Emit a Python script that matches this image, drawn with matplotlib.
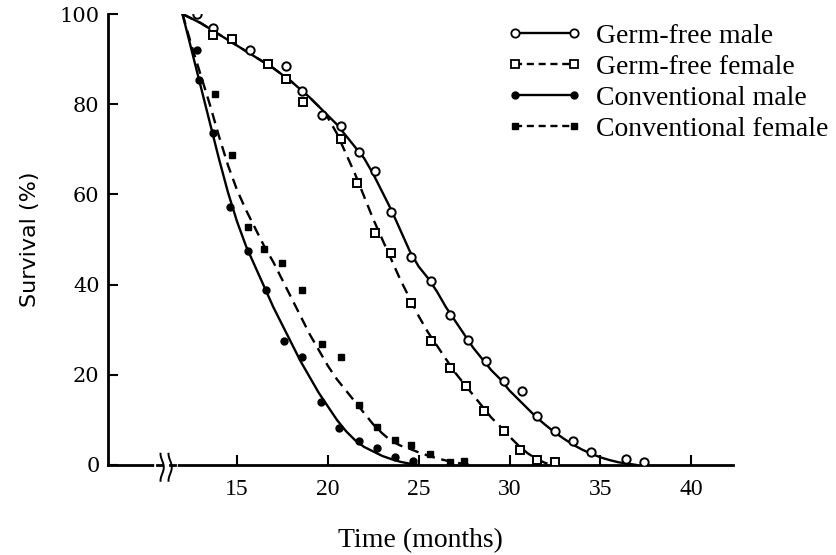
import numpy as np
import matplotlib
matplotlib.use("Agg")
import matplotlib.pyplot as plt
from matplotlib.lines import Line2D

# ---------------- data ----------------
# observed points
gfm_x = [12.8, 13.7, 15.7, 17.7, 18.6, 19.7, 20.7, 21.7, 22.6, 23.5, 24.6, 25.7, 26.7,
         27.7, 28.7, 29.7, 30.7, 31.5, 32.5, 33.5, 34.5, 36.4, 37.4]
gfm_y = [100, 97, 92, 88.5, 83, 77.5, 75.2, 69.5, 65.2, 56.1, 46.2, 40.7, 33.3,
         27.7, 23, 18.7, 16.3, 10.8, 7.6, 5.3, 2.8, 1.3, 0.7]

gff_x = [13.7, 14.7, 16.7, 17.7, 18.65, 20.7, 21.6, 22.6, 23.5, 24.6, 25.7, 26.7,
         27.6, 28.6, 29.7, 30.6, 31.5, 32.5]
gff_y = [95.4, 94.5, 89, 85.5, 80.5, 72.2, 62.5, 51.5, 47.1, 35.9, 27.6, 21.6,
         17.5, 12, 7.6, 3.3, 1.0, 0.7]

cvm_x = [12.8, 12.9, 13.7, 14.6, 15.6, 16.6, 17.6, 18.6, 19.6, 20.6, 21.7, 22.7, 23.7, 24.7]
cvm_y = [92, 85.3, 73.7, 57.2, 47.5, 38.9, 27.6, 24.0, 14.0, 8.2, 5.3, 3.8, 1.8, 0.8]

cvf_x = [13.8, 14.7, 15.6, 16.5, 17.5, 18.6, 19.7, 20.7, 21.7, 22.7, 23.7, 24.6, 25.6, 26.7, 27.5]
cvf_y = [82.2, 68.7, 52.7, 47.9, 44.9, 38.7, 26.9, 24.0, 13.3, 8.5, 5.5, 4.4, 2.5, 0.7, 0.8]

# fitted curves
gfm_cx = [12, 13, 14, 15, 16, 17, 18, 19, 20, 20.5, 21, 21.5, 22, 22.5, 23, 23.5, 24,
          24.5, 25, 25.5, 26, 26.5, 27, 27.5, 28, 28.5, 29, 29.5, 30, 30.5, 31, 31.5,
          32, 32.5, 33, 33.5, 34, 34.5, 35, 35.5, 36, 36.5, 37]
gfm_cy = [100, 98, 95.5, 93, 90.5, 88, 85, 81.5, 77.5, 75.5, 73, 70.5, 68, 64.5, 60.5,
          56.5, 52, 47.5, 44, 41.5, 38.5, 35, 32, 29, 26, 23.5, 21, 19, 16.5, 14.5, 12.5,
          10.5, 8.8, 7.2, 5.8, 4.5, 3.4, 2.5, 1.7, 1.1, 0.6, 0.3, 0]

gff_cx = [12, 13, 14, 15, 16, 17, 18, 19, 19.5, 20, 20.5, 21, 21.5, 22, 22.5, 23, 23.5,
          24, 24.5, 25, 25.5, 26, 26.5, 27, 27.5, 28, 28.5, 29, 29.5, 30, 30.5, 31,
          31.5, 32, 32.5]
gff_cy = [100, 98, 95.5, 93, 90.5, 88, 85, 81.5, 79.5, 77, 73.5, 69, 64.5, 59.5, 54.5,
          50, 45.5, 41, 37, 33, 29.5, 26.5, 23.5, 20.5, 18, 15.5, 13, 10.5, 8.5, 6.3,
          4.3, 2.6, 1.3, 0.4, 0]

cvm_cx = [12, 12.5, 13, 13.5, 14, 14.5, 15, 15.5, 16, 16.5, 17, 17.5, 18, 18.5, 19,
          19.5, 20, 20.5, 21, 21.5, 22, 22.5, 23, 23.5, 24, 24.5, 25]
cvm_cy = [100, 92, 84, 76, 68, 60.5, 54, 48.5, 44, 39.5, 35, 31, 27, 23, 19.5, 16, 13,
          10, 7.5, 5.5, 4, 3, 2, 1.3, 0.7, 0.3, 0]

cvf_cx = [12, 12.5, 13, 13.5, 14, 14.5, 15, 15.5, 16, 16.5, 17, 17.5, 18, 18.5, 19,
          19.5, 20, 20.5, 21, 21.5, 22, 22.5, 23, 23.5, 24, 24.5, 25, 25.5, 26, 26.5,
          27, 27.5, 28]
cvf_cy = [100, 93, 86.5, 80, 73, 66.5, 61, 56.5, 52.5, 48.5, 45, 41, 37, 33, 29, 25.5,
          22, 19, 16.5, 14, 11.5, 9, 7, 5.3, 4.3, 3.6, 2.8, 2.1, 1.5, 1, 0.6, 0.2, 0]

series_labels = ["Germ-free male", "Germ-free female", "Conventional male",
                 "Conventional female"]
x_ticks = [15, 20, 25, 30, 35, 40]
y_ticks = [0, 20, 40, 60, 80, 100]

# ---------------- figure ----------------
fig = plt.figure(figsize=(8.36, 5.55), dpi=100)
ax = fig.add_axes([108 / 836, 1 - 465 / 555, (733 - 108) / 836, (465 - 14) / 555])
ax.set_xlim(7.9, 42.3)
ax.set_ylim(0, 100)

k = "black"
lw = 1.7
dash = (0, (4.5, 2.8))

ax.plot(gfm_cx, gfm_cy, color=k, lw=lw, solid_capstyle="round", zorder=2)
ax.plot(gff_cx, gff_cy, color=k, lw=lw, linestyle=dash, zorder=2)
ax.plot(cvm_cx, cvm_cy, color=k, lw=lw, solid_capstyle="round", zorder=2)
ax.plot(cvf_cx, cvf_cy, color=k, lw=lw, linestyle=dash, zorder=2)

ax.plot(gfm_x, gfm_y, "o", ms=6, mfc="white", mec=k, mew=1.4, zorder=3)
ax.plot(gff_x, gff_y, "s", ms=5.5, mfc="white", mec=k, mew=1.4, zorder=3)
ax.plot(cvm_x, cvm_y, "o", ms=5, mfc=k, mec=k, zorder=3)
ax.plot(cvf_x, cvf_y, "s", ms=5, mfc=k, mec=k, zorder=3)

# axes styling
for s in ["top", "right"]:
    ax.spines[s].set_visible(False)
for s in ["left", "bottom"]:
    ax.spines[s].set_linewidth(2.0)
ax.set_xticks(x_ticks)
ax.set_yticks(y_ticks)
ax.tick_params(axis="both", direction="in", length=7, width=1.5, pad=10)
ax.tick_params(axis="y", pad=6)
for t in ax.get_xticklabels():
    t.set_fontfamily("Liberation Serif")
    t.set_fontsize(17)
for t in ax.get_yticklabels():
    t.set_fontfamily("DejaVu Serif")
    t.set_fontsize(15)

ax.set_xlabel("Time (months)", fontfamily="Liberation Serif", fontsize=20, labelpad=20)
ax.set_ylabel("Survival (%)", fontfamily="DejaVu Sans", fontsize=16, labelpad=14)

# axis break mark
trans = ax.get_xaxis_transform()
xb = 11.1
ax.plot([xb - 0.5, xb + 0.5], [0, 0], color="white", lw=4, transform=trans,
        clip_on=False, zorder=5)
t = np.linspace(0, 1, 40)
for off in (-0.22, 0.22):
    xs = xb + off + 0.09 * np.sin(2 * np.pi * (t - 0.25))
    ys = -0.035 + 0.06 * t
    ax.plot(xs, ys, color=k, lw=1.4, transform=trans, clip_on=False, zorder=6)
ax.plot([xb - 0.5, xb - 0.22], [0, 0], color=k, lw=2, transform=trans,
        clip_on=False, zorder=6)
ax.plot([xb + 0.22, xb + 0.5], [0, 0], color=k, lw=2, transform=trans,
        clip_on=False, zorder=6)

# legend
handles = [
    Line2D([], [], color=k, lw=lw, marker="o", ms=6, mfc="white", mec=k, mew=1.3),
    Line2D([], [], color=k, lw=lw, linestyle=(0, (3, 2)), marker="s", ms=5.5,
           mfc="white", mec=k, mew=1.3),
    Line2D([], [], color=k, lw=lw, marker="o", ms=5, mfc=k, mec=k),
    Line2D([], [], color=k, lw=lw, linestyle=(0, (3, 2)), marker="s", ms=5,
           mfc=k, mec=k),
]
leg = fig.legend(handles, series_labels, loc="upper left",
                 bbox_to_anchor=(496 / 836, 1 - 12 / 555), frameon=False,
                 numpoints=2, handlelength=2.7, handletextpad=0.5,
                 labelspacing=0.2, borderaxespad=0,
                 prop={"family": "Liberation Serif", "size": 20})

fig.savefig("out.png", dpi=100, facecolor="white")
